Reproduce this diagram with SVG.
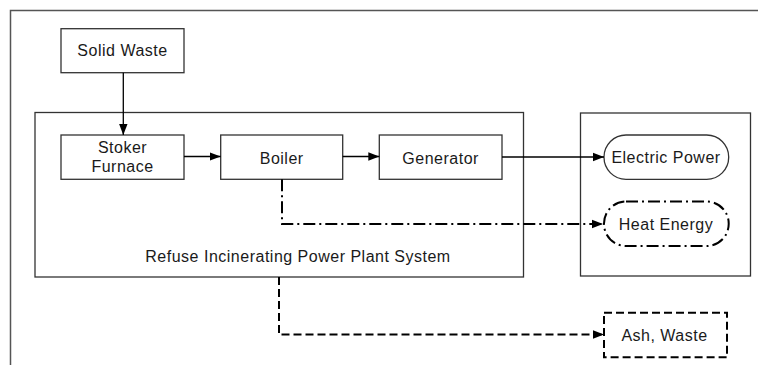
<svg xmlns="http://www.w3.org/2000/svg" width="758" height="365" viewBox="0 0 758 365">
<style>
  text { font-family: "Liberation Sans", Arial, sans-serif; font-size: 16px; letter-spacing: 0.5px; fill: #1a1a1a; text-anchor: middle; }
  .box { fill: #ffffff; stroke: #333333; stroke-width: 1.3; }
  .frame { fill: none; stroke: #555555; stroke-width: 1.5; }
  .conn { fill: none; stroke: #000000; stroke-width: 1.3; }
  .dashdot { fill: none; stroke: #000000; stroke-width: 2; stroke-dasharray: 12 4 2 4; }
  .dashed { fill: none; stroke: #000000; stroke-width: 2; stroke-dasharray: 8 4; }
</style>
<defs>
  <marker id="arrow" markerUnits="userSpaceOnUse" markerWidth="12" markerHeight="10" refX="11" refY="5" orient="auto">
    <path d="M0,0.8 L11,5 L0,9.2 Z" fill="#000000"/>
  </marker>
</defs>
<rect width="758" height="365" fill="#ffffff"/>
<g id="frame">
  <path class="frame" d="M10.5,365 L10.5,10.5 L758,10.5"/>
</g>
<g id="system">
  <rect class="box" x="35" y="112.5" width="488.5" height="164.5" fill="none"/>
  <text x="298" y="261.5">Refuse Incinerating Power Plant System</text>
</g>
<g id="outputs">
  <rect class="box" x="580.5" y="113" width="170" height="163"/>
</g>
<g id="solid-waste">
  <rect class="box" x="61" y="28.7" width="123" height="44"/>
  <text x="122.5" y="56.3">Solid Waste</text>
</g>
<g id="stoker-furnace">
  <rect class="box" x="61" y="135" width="123" height="44.3"/>
  <text x="122.5" y="153.3">Stoker</text>
  <text x="122.5" y="172.3">Furnace</text>
</g>
<g id="boiler">
  <rect class="box" x="220.7" y="135" width="122" height="44.3"/>
  <text x="281.7" y="163.8">Boiler</text>
</g>
<g id="generator">
  <rect class="box" x="379.3" y="135" width="122.7" height="44.3"/>
  <text x="440.6" y="163.8">Generator</text>
</g>
<g id="electric-power">
  <rect class="box" x="604" y="135" width="124.7" height="44.3" rx="22" ry="22" fill="#ffffff" stroke="#000000"/>
  <text x="666" y="163">Electric Power</text>
</g>
<g id="heat-energy">
  <rect class="dashdot" x="604" y="201.5" width="124.7" height="44.5" rx="22" ry="22"/>
  <text x="666" y="230">Heat Energy</text>
</g>
<g id="ash-waste">
  <rect class="dashed" x="604" y="312.7" width="123" height="44.6"/>
  <text x="664.5" y="340.7">Ash, Waste</text>
</g>
<g id="connectors">
  <path class="conn" d="M123.3,72.7 L123.3,135" marker-end="url(#arrow)"/>
  <path class="conn" d="M184,156.5 L220.7,156.5" marker-end="url(#arrow)"/>
  <path class="conn" d="M342.7,156.5 L379.3,156.5" marker-end="url(#arrow)"/>
  <path class="conn" d="M502,157 L604,157" marker-end="url(#arrow)"/>
  <path class="dashdot" d="M282,179.3 L282,224 L603,224" marker-end="url(#arrow)"/>
  <path class="dashed" d="M279,277 L279,334.5 L604,334.5" marker-end="url(#arrow)"/>
</g>
</svg>
